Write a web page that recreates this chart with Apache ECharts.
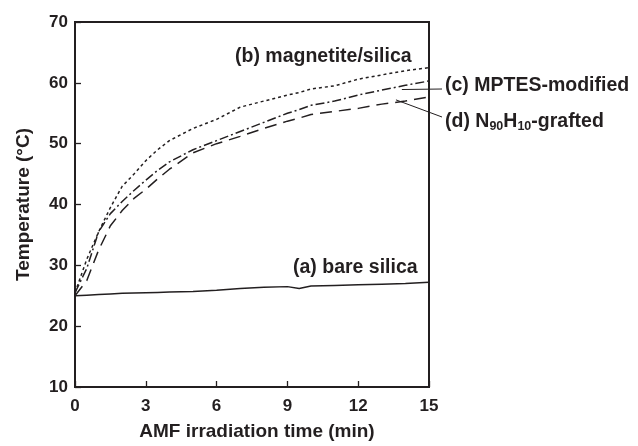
<!DOCTYPE html>
<html><head><meta charset="utf-8">
<script src="https://cdn.jsdelivr.net/npm/echarts@6/dist/echarts.min.js"></script>
<style>html,body{margin:0;padding:0;background:#fff}#c{width:638px;height:446px}</style>
</head><body><div id="c"></div>
<script>
var times = [0,0.5,1,1.5,2,2.5,3,3.5,4,5,6,7,8,9,9.5,10,11,12,13,14,15];
var bareSilica   = [25,25.1,25.2,25.3,25.4,25.45,25.5,25.55,25.6,25.7,25.9,26.2,26.4,26.5,26.2,26.6,26.7,26.8,26.9,27.0,27.2];
var magnetite    = [25.5,31,35.5,39.5,43,45,47.2,49,50.5,52.5,54,56,57,58,58.4,59,59.5,60.6,61.3,62,62.5];
var mptes        = [25.5,29.5,35.5,38.5,40.5,42.3,44,45.6,47,49,50.5,52,53.5,55,55.6,56.3,57,58,58.8,59.6,60.3];
var grafted      = [25,27.5,32.5,36.5,39,41,42.5,44.2,45.8,48.5,50,51.2,52.5,53.7,54.2,54.8,55.3,55.8,56.5,57,57.7];
var xTicks = [0,3,6,9,12,15];
var yTicks = [10,20,30,40,50,60,70];

function pairs(v){ return times.map(function(t,i){ return [t, v[i]]; }); }
var ink = '#231f20';
var font = 'Liberation Sans, Arial, sans-serif';
var chart = echarts.init(document.getElementById('c'));
var ls = function(type){ return {color: ink, width: 1.5, type: type}; };
chart.setOption({
  animation: false,
  backgroundColor: '#fff',
  grid: {left: 75, top: 22, width: 354, height: 369, show: true, borderColor: ink, borderWidth: 2, backgroundColor: 'transparent'},
  xAxis: {
    type: 'value', min: 0, max: 15, interval: 3,
    axisLine: {show: true, lineStyle: {color: ink, width: 2}},
    axisTick: {show: true, inside: true, length: 6, lineStyle: {color: ink, width: 1.3}},
    axisLabel: {color: ink, fontFamily: font, fontWeight: 'bold', fontSize: 17, margin: 11},
    splitLine: {show: false},
    name: 'AMF irradiation time (min)', nameLocation: 'middle', nameGap: 35,
    nameTextStyle: {color: ink, fontFamily: font, fontWeight: 'bold', fontSize: 19, padding: [0, 0, 0, 10]}
  },
  yAxis: {
    type: 'value', min: 10, max: 70, interval: 10,
    axisLine: {show: true, lineStyle: {color: ink, width: 2}},
    axisTick: {show: true, inside: true, length: 6, lineStyle: {color: ink, width: 1.3}},
    axisLabel: {color: ink, fontFamily: font, fontWeight: 'bold', fontSize: 17, margin: 7},
    splitLine: {show: false},
    name: 'Temperature (°C)', nameLocation: 'middle', nameGap: 42, nameRotate: 90,
    nameTextStyle: {color: ink, fontFamily: font, fontWeight: 'bold', fontSize: 19}
  },
  series: [
    {type: 'line', data: pairs(bareSilica), symbol: 'none', lineStyle: ls('solid')},
    {type: 'line', data: pairs(magnetite), symbol: 'none', lineStyle: ls([3,3])},
    {type: 'line', data: pairs(mptes), symbol: 'none', lineStyle: ls([9,3,2,3])},
    {type: 'line', data: pairs(grafted), symbol: 'none', lineStyle: ls([12,7])}
  ]
});
var pc = chart.convertToPixel({gridIndex: 0}, [13.85, 58.9]);
var pd = chart.convertToPixel({gridIndex: 0}, [13.6, 57.2]);
var tstyle = {fill: ink, font: 'bold 19.5px ' + font};
chart.setOption({
  graphic: [
    {type: 'text', left: 235, top: 47, style: Object.assign({text: '(b) magnetite/silica'}, tstyle)},
    {type: 'text', left: 293, top: 258, style: Object.assign({text: '(a) bare silica'}, tstyle)},
    {type: 'text', left: 445, top: 76, style: Object.assign({text: '(c) MPTES-modified'}, tstyle)},
    {type: 'text', left: 445, top: 112, style: {rich: {n: {fill: ink, font: 'bold 19.5px ' + font}, s: {fill: ink, font: 'bold 12.5px ' + font, padding: [10,0,0,0]}}, text: '{n|(d) N}{s|90}{n|H}{s|10}{n|-grafted}'}},
    {type: 'line', shape: {x1: pc[0], y1: pc[1], x2: 442, y2: 89}, style: {stroke: ink, lineWidth: 1}},
    {type: 'line', shape: {x1: pd[0], y1: pd[1], x2: 442, y2: 117}, style: {stroke: ink, lineWidth: 1}}
  ]
});
</script>
</body></html>
